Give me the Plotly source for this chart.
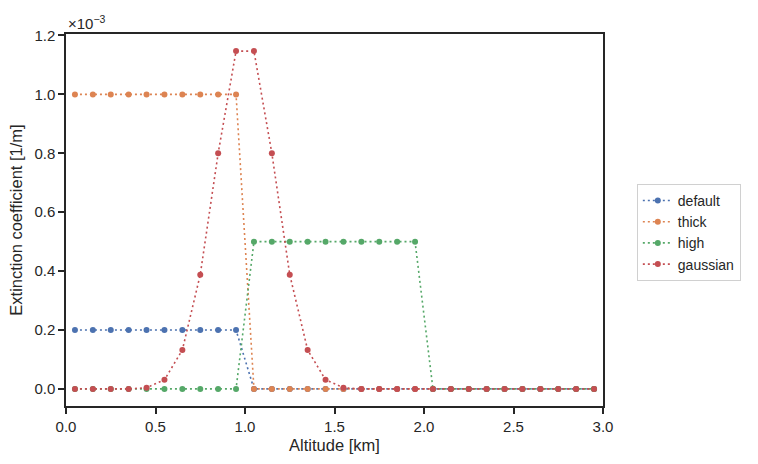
import plotly.graph_objects as go

# Altitude grid [km]
altitude = [0.05, 0.15, 0.25, 0.35, 0.45, 0.55, 0.65, 0.75, 0.85, 0.95,
            1.05, 1.15, 1.25, 1.35, 1.45, 1.55, 1.65, 1.75, 1.85, 1.95,
            2.05, 2.15, 2.25, 2.35, 2.45, 2.55, 2.65, 2.75, 2.85, 2.95]

# Extinction coefficients in units of 1e-3 1/m
default = [0.2] * 10 + [0.0] * 20
thick = [1.0] * 10 + [0.0] * 20
high = [0.0] * 10 + [0.5] * 10 + [0.0] * 10
gaussian = [0.0, 0.0, 0.0, 0.0, 0.004, 0.031, 0.132, 0.388, 0.80, 1.147,
            1.147, 0.80, 0.388, 0.132, 0.031, 0.004, 0.0, 0.0, 0.0, 0.0,
            0.0, 0.0, 0.0, 0.0, 0.0, 0.0, 0.0, 0.0, 0.0, 0.0]

series_names = ["default", "thick", "high", "gaussian"]
series_values = [default, thick, high, gaussian]
colors = ["#4c72b0", "#dd8452", "#55a868", "#c44e52"]

FONT = "Liberation Sans, Arial, sans-serif"
TXT = "#262626"

fig = go.Figure()
for name, vals, col in zip(series_names, series_values, colors):
    fig.add_trace(go.Scatter(
        x=altitude, y=vals, name=name, mode="lines+markers",
        line=dict(color=col, width=1.6, dash="2px,3px"),
        marker=dict(color=col, size=6, line=dict(width=0)),
    ))

axis_common = dict(
    showline=True, linecolor=TXT, linewidth=1.5, mirror=True,
    ticks="outside", ticklen=6, tickwidth=1.5, tickcolor=TXT,
    showgrid=False, zeroline=False,
    tickfont=dict(family=FONT, size=15, color=TXT),
)

fig.update_xaxes(range=[0, 3], dtick=0.5, tick0=0, tickformat=".1f",
                 title=dict(text="Altitude [km]", font=dict(family=FONT, size=16.5, color=TXT), standoff=6),
                 **axis_common)
fig.update_yaxes(range=[-0.058, 1.205], dtick=0.2, tick0=0, tickformat=".1f",
                 title=dict(text="Extinction coefficient [1/m]", font=dict(family=FONT, size=16.5, color=TXT), standoff=8),
                 **axis_common)

fig.add_annotation(xref="paper", yref="paper", x=0, y=1, xanchor="left", yanchor="bottom",
                   text="×10<sup>−3</sup>", showarrow=False, yshift=0,
                   font=dict(family=FONT, size=15, color=TXT))

fig.update_layout(
    width=758, height=464,
    margin=dict(l=66, r=155, t=34, b=58),
    plot_bgcolor="white", paper_bgcolor="white",
    legend=dict(x=1.063, y=0.597, xanchor="left", yanchor="top",
                bordercolor="#d0d0d0", borderwidth=1, bgcolor="white",
                font=dict(family=FONT, size=14, color=TXT)),
    font=dict(family=FONT, color=TXT),
)

fig.write_html("out.html")
